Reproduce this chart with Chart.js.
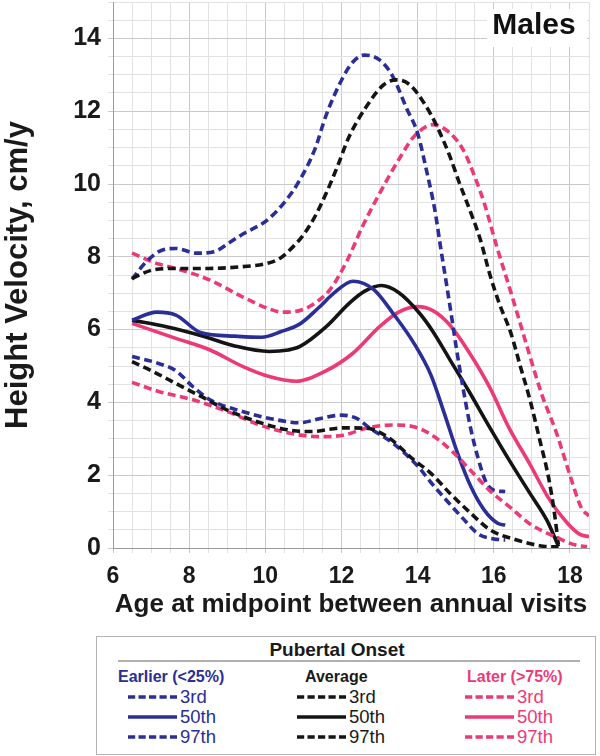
<!DOCTYPE html>
<html>
<head>
<meta charset="utf-8">
<script src="https://cdn.jsdelivr.net/npm/chart.js@4.4.1/dist/chart.umd.min.js"></script>
<style>
  body { margin: 0; background: #fff; font-family: "Liberation Sans", Arial, sans-serif; }
  #wrap { position: relative; width: 600px; height: 756px; overflow: hidden; }
  #chart { position: absolute; left: 0; top: 0; }
  .box { position: absolute; left: 96px; top: 636px; width: 498px; height: 117px; border: 1.5px solid #b4b4b4; }
  .ttl { position: absolute; left: 97px; width: 480px; top: 639px; text-align: center; font-weight: bold; font-size: 19px; color: #1a1a1a; }
  .rule { position: absolute; left: 118px; width: 462px; top: 660px; height: 0; border-top: 2px solid #b0b0b0; }
  .hd { position: absolute; font-weight: bold; font-size: 16px; top: 668px; }
  .row { position: absolute; font-size: 18.5px; line-height: 20px; white-space: nowrap; }
  .row svg { vertical-align: middle; margin-right: 3px; position: relative; top: -1px; }
</style>
</head>
<body>
<div id="wrap">
  <canvas id="chart" width="600" height="630"></canvas>
  <div class="box"></div>
  <div class="ttl">Pubertal Onset</div>
  <div class="rule"></div>
  <div id="legend"></div>
</div>
<script>
// pubertal onset groups
const BLUE = '#2a2e96';
const BLACK = '#141414';
const PINK = '#ec3a78';

// Earlier (<25%)
const earlyAge3 = [6.5, 7.2, 7.65, 8.1, 8.55, 9.4, 10.3, 10.9, 11.45, 12.0, 12.4, 12.75, 13.35, 14.0, 14.35, 14.75, 15.2, 15.6, 16.0, 16.3];
const earlyP3 = [5.26, 5.07, 4.87, 4.43, 4.07, 3.75, 3.52, 3.44, 3.56, 3.65, 3.56, 3.29, 2.88, 2.25, 1.8, 1.32, 0.8, 0.38, 0.25, 0.22];
const earlyAge50 = [6.5, 7.15, 7.65, 8.3, 9.2, 9.9, 10.4, 10.9, 11.4, 11.8, 12.3, 12.85, 13.35, 13.9, 14.35, 14.7, 15.05, 15.4, 15.75, 16.1, 16.3];
const earlyP50 = [6.26, 6.48, 6.4, 5.92, 5.82, 5.79, 5.94, 6.15, 6.6, 7.0, 7.33, 7.1, 6.45, 5.63, 4.75, 3.7, 2.6, 1.68, 1.04, 0.68, 0.63];
const earlyAge97 = [6.5, 6.8, 7.2, 7.65, 8.2, 8.65, 9.1, 9.4, 10.05, 10.55, 10.9, 11.3, 11.6, 12.05, 12.3, 12.6, 13.0, 13.35, 13.7, 14.0, 14.25, 14.45, 14.6, 14.75, 14.9, 15.0, 15.2, 15.4, 15.6, 15.8, 16.0, 16.3];
const earlyP97 = [7.38, 7.78, 8.14, 8.23, 8.1, 8.14, 8.42, 8.62, 9.01, 9.56, 10.1, 10.95, 11.9, 12.95, 13.35, 13.54, 13.41, 12.95, 12.1, 11.39, 10.29, 9.3, 8.28, 7.3, 6.3, 5.6, 4.35, 3.25, 2.42, 1.8, 1.59, 1.55];

// Average
const avgAge3 = [6.5, 7.05, 7.65, 8.3, 9.0, 9.85, 10.75, 11.2, 12.05, 12.65, 13.2, 13.9, 14.35, 14.85, 15.4, 15.9, 16.6, 17.3, 17.7];
const avgP3 = [5.12, 4.85, 4.52, 4.17, 3.79, 3.45, 3.22, 3.2, 3.3, 3.29, 3.06, 2.42, 2.05, 1.5, 0.95, 0.5, 0.22, 0.05, 0.03];
const avgAge50 = [6.5, 7.4, 8.3, 9.2, 10.1, 10.6, 10.9, 11.6, 12.2, 12.6, 13.05, 13.5, 14.05, 14.4, 14.85, 15.35, 15.9, 16.4, 16.95, 17.4, 17.7];
const avgP50 = [6.26, 6.08, 5.84, 5.55, 5.4, 5.44, 5.53, 6.08, 6.72, 7.05, 7.21, 7.02, 6.45, 5.95, 5.17, 4.3, 3.3, 2.42, 1.5, 0.75, 0.04];
const avgAge97 = [6.5, 7.05, 7.65, 8.5, 9.4, 10.05, 10.4, 10.75, 11.0, 11.3, 11.6, 11.9, 12.2, 12.65, 13.1, 13.45, 13.8, 14.2, 14.5, 14.85, 15.1, 15.4, 15.65, 15.9, 16.15, 16.45, 16.7, 16.95, 17.2, 17.45, 17.6, 17.7];
const avgP97 = [7.41, 7.64, 7.68, 7.68, 7.73, 7.82, 7.97, 8.3, 8.6, 9.1, 9.75, 10.5, 11.3, 12.12, 12.72, 12.86, 12.72, 12.17, 11.6, 10.75, 10.02, 9.2, 8.46, 7.5, 6.7, 5.9, 4.98, 4.07, 3.0, 1.87, 0.9, 0.04];

// Later (>75%)
const lateAge3 = [6.5, 7.2, 8.1, 9.0, 9.85, 10.75, 11.45, 12.05, 12.65, 13.35, 13.9, 14.35, 14.9, 15.4, 15.9, 16.45, 16.95, 17.55, 18.15, 18.45];
const lateP3 = [4.55, 4.3, 4.07, 3.75, 3.38, 3.13, 3.06, 3.1, 3.29, 3.38, 3.33, 3.12, 2.66, 2.12, 1.57, 1.1, 0.66, 0.34, 0.08, 0.04];
const lateAge50 = [6.5, 7.65, 8.55, 9.4, 10.1, 10.8, 11.6, 12.3, 13.0, 13.5, 14.0, 14.4, 14.85, 15.35, 15.9, 16.4, 16.95, 17.45, 17.9, 18.25, 18.5];
const lateP50 = [6.17, 5.76, 5.44, 4.99, 4.71, 4.58, 4.87, 5.35, 6.08, 6.48, 6.63, 6.52, 6.12, 5.38, 4.4, 3.3, 2.3, 1.35, 0.72, 0.38, 0.31];
const lateAge97 = [6.5, 7.2, 7.65, 8.55, 9.4, 10.1, 10.45, 10.8, 11.1, 11.4, 11.7, 12.15, 12.55, 13.0, 13.55, 13.9, 14.4, 14.85, 15.2, 15.5, 15.75, 16.1, 16.35, 16.6, 16.9, 17.25, 17.65, 18.0, 18.3, 18.5];
const lateP97 = [8.1, 7.8, 7.68, 7.36, 6.9, 6.57, 6.48, 6.5, 6.6, 6.8, 7.1, 7.9, 8.83, 9.74, 10.75, 11.3, 11.63, 11.4, 10.93, 10.2, 9.47, 8.2, 7.36, 6.5, 5.44, 4.25, 3.15, 2.0, 1.1, 0.88];

const groups = ['Earlier (<25%)', 'Average', 'Later (>75%)'];
const groupColors = [BLUE, BLACK, PINK];
const percentiles = ['3rd', '50th', '97th'];

const FONT = '"Liberation Sans", Arial, sans-serif';

function line(label, ages, vals, color, dashed) {
  return {
    label: label,
    data: ages.map((a, i) => ({x: a, y: vals[i]})),
    borderColor: color,
    borderWidth: 3.6,
    borderDash: dashed ? [8, 4.5] : [],
    pointRadius: 0,
    fill: false,
    cubicInterpolationMode: 'monotone'
  };
}

const datasets = [
  line('Average 3rd', avgAge3, avgP3, BLACK, true),
  line('Earlier 3rd', earlyAge3, earlyP3, BLUE, true),
  line('Later 3rd', lateAge3, lateP3, PINK, true),
  line('Average 97th', avgAge97, avgP97, BLACK, true),
  line('Earlier 97th', earlyAge97, earlyP97, BLUE, true),
  line('Later 97th', lateAge97, lateP97, PINK, true),
  line('Earlier 50th', earlyAge50, earlyP50, BLUE, false),
  line('Average 50th', avgAge50, avgP50, BLACK, false),
  line('Later 50th', lateAge50, lateP50, PINK, false)
];

const gridColor = ctx => (ctx.tick && Math.abs(ctx.tick.value % 2) < 1e-6) ? '#c9c9c9' : '#e2e2e2';

const malesLabel = {
  id: 'malesLabel',
  beforeDatasetsDraw(chart) {
    const c = chart.ctx;
    const a = chart.chartArea;
    c.save();
    c.fillStyle = '#ffffff';
    c.fillRect(a.right - 102, a.top + 7, 100, 38);
    c.fillStyle = '#111111';
    c.font = 'bold 30px ' + FONT;
    c.textAlign = 'center';
    c.textBaseline = 'middle';
    c.fillText('Males', a.right - 55, a.top + 24);
    c.restore();
  }
};

new Chart(document.getElementById('chart'), {
  type: 'line',
  data: {datasets: datasets},
  plugins: [malesLabel],
  options: {
    responsive: false,
    devicePixelRatio: 1,
    animation: false,
    layout: {padding: {top: 2, right: 11, left: 0, bottom: 0}},
    plugins: {legend: {display: false}, tooltip: {enabled: false}},
    scales: {
      x: {
        type: 'linear',
        min: 6, max: 18.5,
        ticks: {
          stepSize: 0.5, autoSkip: false, maxRotation: 0,
          callback: v => (v % 2 === 0) ? v : '',
          font: {family: FONT, size: 23, weight: 'bold'},
          color: '#1a1a1a', padding: 10
        },
        grid: {color: gridColor, tickLength: 5},
        border: {color: '#9a9a9a'},
        title: {
          display: true, text: 'Age at midpoint between annual visits',
          font: {family: FONT, size: 26, weight: 'bold'},
          color: '#1a1a1a', padding: {top: 0, bottom: 10}
        },
        afterFit: s => { s.height = 82; s.paddingLeft = 0; s.paddingRight = 0; }
      },
      y: {
        min: 0, max: 15,
        ticks: {
          stepSize: 0.5, autoSkip: false,
          callback: v => (v % 2 === 0) ? v : '',
          font: {family: FONT, size: 25, weight: 'bold'},
          color: '#1a1a1a', padding: 7
        },
        grid: {color: gridColor, tickLength: 5},
        border: {color: '#9a9a9a'},
        title: {
          display: true, text: 'Height Velocity, cm/y',
          font: {family: FONT, size: 31, weight: 'bold'},
          color: '#1a1a1a', padding: {top: 0, bottom: 0}
        },
        afterFit: s => { s.width = 113; s.paddingTop = 0; s.paddingBottom = 0; }
      }
    }
  }
});

// legend table
const headLeft = [118, 305, 467];
const sampleLeft = [128, 297, 465];
const legend = document.getElementById('legend');
groups.forEach((g, gi) => {
  const textColor = groupColors[gi] === BLACK ? '#1a1a1a' : groupColors[gi];
  const hd = document.createElement('div');
  hd.className = 'hd';
  hd.style.left = headLeft[gi] + 'px';
  hd.style.color = textColor;
  hd.textContent = g;
  legend.appendChild(hd);
  percentiles.forEach((p, pi) => {
    const row = document.createElement('div');
    row.className = 'row';
    row.style.left = sampleLeft[gi] + 'px';
    row.style.top = (687 + pi * 20) + 'px';
    row.style.color = textColor;
    const dash = p === '50th' ? '' : 'stroke-dasharray="7.2 3.3"';
    row.innerHTML = '<svg width="49" height="6"><line x1="0" y1="3" x2="49" y2="3" stroke="' +
      groupColors[gi] + '" stroke-width="3.6" ' + dash + '/></svg>' + p;
    legend.appendChild(row);
  });
});
</script>
</body>
</html>
